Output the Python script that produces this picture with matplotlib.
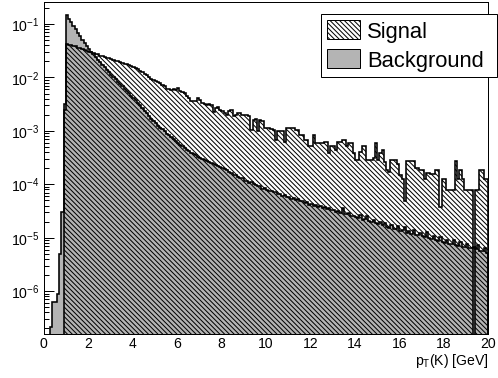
import numpy as np
import matplotlib
matplotlib.use("Agg")
import matplotlib.pyplot as plt
from matplotlib.patches import Patch
from matplotlib.ticker import (MultipleLocator, FixedLocator, LogLocator,
                               LogFormatterSciNotation, NullFormatter)

# ---------------------------------------------------------------------------
# Histogram contents: 200 bins of 0.1 GeV between 0 and 20 GeV.
# Values are log10 of the normalised bin content (None = empty bin).
# ---------------------------------------------------------------------------
bin_edges = np.linspace(0.0, 20.0, 201)

signal_log10 = [
    None, None, None, None, None, None, None, None, None, -2.60,
    -1.38, -1.40, -1.39, -1.42, -1.42, -1.44, -1.45, -1.47, -1.48, -1.50,
    -1.52, -1.53, -1.55, -1.56, -1.57, -1.59, -1.60, -1.62, -1.63, -1.64,
    -1.66, -1.67, -1.69, -1.70, -1.71, -1.73, -1.74, -1.75, -1.77, -1.78,
    -1.80, -1.82, -1.84, -1.87, -1.89, -1.93, -1.96, -1.99, -2.02, -2.04,
    -2.06, -2.09, -2.10, -2.14, -2.16, -2.21, -2.22, -2.23, -2.22, -2.24,
    -2.20, -2.26, -2.27, -2.29, -2.35, -2.38, -2.44, -2.45, -2.44, -2.39,
    -2.42, -2.48, -2.50, -2.51, -2.50, -2.52, -2.64, -2.57, -2.56, -2.60,
    -2.62, -2.67, -2.70, -2.62, -2.60, -2.73, -2.70, -2.67, -2.67, -2.70,
    -2.70, -2.71, -2.72, -2.98, -2.79, -2.78, -3.01, -2.80, -2.82, -2.95,
    -2.94, -2.95, -2.96, -2.98, -3.17, -3.01, -3.00, -3.01, -3.20, -2.95,
    -2.95, -2.95, -2.95, -2.98, -2.98, -3.07, -3.07, -3.17, -3.17, -3.29,
    -3.29, -3.07, -3.23, -3.23, -3.23, -3.23, -3.20, -3.20, -3.42, -3.29,
    -3.29, -3.35, -3.20, -3.20, -3.17, -3.17, -3.29, -3.23, -3.23, -3.42,
    -3.54, -3.54, -3.39, -3.29, -3.29, -3.54, -3.54, -3.54, -3.51, -3.23,
    -3.54, -3.42, -3.35, -3.59, -3.73, -3.77, -3.55, -3.55, -3.55, -3.62,
    -3.82, -3.91, -4.32, -3.57, -3.57, -3.57, -3.57, -3.69, -3.69, -3.73,
    -3.73, -3.91, -3.78, -3.78, -3.80, -3.80, -3.73, -3.73, -4.42, -3.91,
    -3.91, -4.10, -4.10, -4.10, -4.10, -3.57, -3.91, -3.73, -3.91, -4.10,
    -4.10, -4.10, -4.10, None, -4.10, -4.10, -3.73, -3.73, -3.91, -3.91,
]

background_log10 = [
    None, None, None, -6.67, -6.21, -6.21, -6.05, -5.30, -4.52, -2.50,
    -0.84, -0.90, -0.97, -1.03, -1.10, -1.16, -1.22, -1.29, -1.35, -1.41,
    -1.47, -1.52, -1.57, -1.62, -1.67, -1.72, -1.77, -1.81, -1.86, -1.90,
    -1.95, -1.99, -2.03, -2.08, -2.12, -2.16, -2.21, -2.25, -2.29, -2.34,
    -2.38, -2.43, -2.47, -2.52, -2.57, -2.62, -2.67, -2.72, -2.77, -2.81,
    -2.86, -2.90, -2.94, -2.97, -3.01, -3.05, -3.08, -3.12, -3.15, -3.19,
    -3.22, -3.26, -3.29, -3.32, -3.35, -3.38, -3.41, -3.44, -3.46, -3.48,
    -3.50, -3.52, -3.54, -3.56, -3.58, -3.60, -3.62, -3.64, -3.66, -3.67,
    -3.69, -3.72, -3.73, -3.77, -3.78, -3.82, -3.83, -3.86, -3.89, -3.89,
    -3.93, -3.93, -3.97, -3.96, -4.00, -4.01, -4.04, -4.04, -4.08, -4.07,
    -4.10, -4.12, -4.12, -4.15, -4.15, -4.18, -4.18, -4.21, -4.20, -4.24,
    -4.23, -4.27, -4.26, -4.30, -4.28, -4.32, -4.31, -4.35, -4.33, -4.38,
    -4.37, -4.40, -4.38, -4.42, -4.41, -4.44, -4.43, -4.47, -4.45, -4.49,
    -4.48, -4.51, -4.50, -4.53, -4.45, -4.55, -4.56, -4.54, -4.59, -4.60,
    -4.61, -4.63, -4.58, -4.66, -4.65, -4.60, -4.68, -4.70, -4.66, -4.73,
    -4.74, -4.70, -4.77, -4.72, -4.79, -4.81, -4.76, -4.83, -4.84, -4.78,
    -4.87, -4.86, -4.80, -4.91, -4.88, -4.93, -4.85, -4.94, -4.95, -4.92,
    -4.97, -4.99, -4.90, -5.01, -5.03, -4.97, -5.04, -5.06, -4.98, -5.08,
    -5.09, -5.05, -5.11, -5.12, -5.04, -5.14, -5.15, -5.08, -5.17, -5.18,
    -5.12, -5.19, -5.20, -5.18, -5.22, -5.14, -5.24, -5.25, -5.20, -5.28,
]

legend_labels = ["Signal", "Background"]
x_title = r"p$_{\mathregular{T}}$(K) [GeV]"
x_ticks = [0, 2, 4, 6, 8, 10, 12, 14, 16, 18, 20]
y_decades = [1e-6, 1e-5, 1e-4, 1e-3, 1e-2, 1e-1]
x_range = (0.0, 20.0)
y_range = (1.58e-7, 0.254)

# ---------------------------------------------------------------------------
# Style
# ---------------------------------------------------------------------------
DPI = 100
PT = 72.0 / DPI           # points per pixel
W_PX, H_PX = 498, 378

FONT = "Liberation Sans"
plt.rcParams.update({
    "font.family": [FONT, "DejaVu Sans"],
    "mathtext.fontset": "custom",
    "mathtext.rm": FONT,
    "mathtext.it": FONT + ":italic",
    "mathtext.bf": FONT + ":bold",
    "hatch.linewidth": 1.0 * PT,
})

GREY = "#b4b4b4"
HATCH = "\\" * 7          # ~4.8 px between hatch lines
LW = 1.6 * PT


def to_counts(logs):
    return np.array([0.0 if v is None else 10.0 ** v for v in logs])


signal = to_counts(signal_log10)
background = to_counts(background_log10)

fig = plt.figure(figsize=((W_PX + 0.3) / DPI, (H_PX + 0.3) / DPI), dpi=DPI)
fig.patch.set_facecolor("white")

left, right, top, bottom = 43.5, 488.0, 2.7, 334.0
ax = fig.add_axes([left / W_PX, 1 - bottom / H_PX,
                   (right - left) / W_PX, (bottom - top) / H_PX])
ax.set_yscale("log")

# empty bins are sent far below the visible range so the outline drops to the axis
floor = 1e-9
ax.stairs(np.where(background > 0, background, floor), bin_edges,
          baseline=floor, fill=True, facecolor=GREY, edgecolor="black",
          linewidth=LW, zorder=2)
ax.stairs(np.where(signal > 0, signal, floor), bin_edges,
          baseline=floor, fill=True, facecolor="none", edgecolor="black",
          hatch=HATCH, linewidth=LW, zorder=3)

ax.set_xlim(*x_range)
ax.set_ylim(*y_range)

# axes, ticks, labels
for s in ax.spines.values():
    s.set_linewidth(1.0 * PT)
    s.set_zorder(5)

ax.xaxis.set_major_locator(FixedLocator(x_ticks))
ax.xaxis.set_minor_locator(MultipleLocator(0.4))
ax.yaxis.set_major_locator(FixedLocator(y_decades))
ax.yaxis.set_minor_locator(LogLocator(base=10, subs=np.arange(2, 10)))
ax.yaxis.set_major_formatter(LogFormatterSciNotation())
ax.yaxis.set_minor_formatter(NullFormatter())

tick_fs = 14.0 * PT
ax.tick_params(axis="x", which="major", direction="in", length=9 * PT,
               width=1 * PT, pad=3 * PT, labelsize=tick_fs, top=False)
ax.tick_params(axis="x", which="minor", direction="in", length=4.5 * PT,
               width=1 * PT, top=False)
ax.tick_params(axis="y", which="major", direction="in", length=10 * PT,
               width=1 * PT, pad=4 * PT, labelsize=tick_fs, right=False)
ax.tick_params(axis="y", which="minor", direction="in", length=5 * PT,
               width=1 * PT, right=False)

ax.set_xlabel(x_title, fontsize=14.0 * PT, ha="right", va="baseline")
ax.xaxis.set_label_coords(1.0, -(364.5 - bottom) / (bottom - top))

# legend
handles = [
    Patch(facecolor="white", edgecolor="black", hatch=HATCH, linewidth=1 * PT),
    Patch(facecolor=GREY, edgecolor="black", linewidth=1 * PT),
]
leg_fs = 22.0 * PT
lx0, lx1, ly0, ly1 = 321.0, 497.0, 14.3, 76.7
leg = fig.legend(handles, legend_labels, loc="upper left",
                 bbox_to_anchor=(lx0 / W_PX, 1 - ly1 / H_PX,
                                 (lx1 - lx0) / W_PX, (ly1 - ly0) / H_PX),
                 mode="expand", borderaxespad=0, fontsize=leg_fs,
                 frameon=True, fancybox=False, shadow=False, framealpha=1,
                 edgecolor="black", borderpad=0.28, labelspacing=0.32,
                 handlelength=1.5, handleheight=0.95, handletextpad=0.3)
leg.get_frame().set_linewidth(1 * PT)
leg.set_zorder(10)

fig.savefig("out.png", dpi=DPI, facecolor="white")
